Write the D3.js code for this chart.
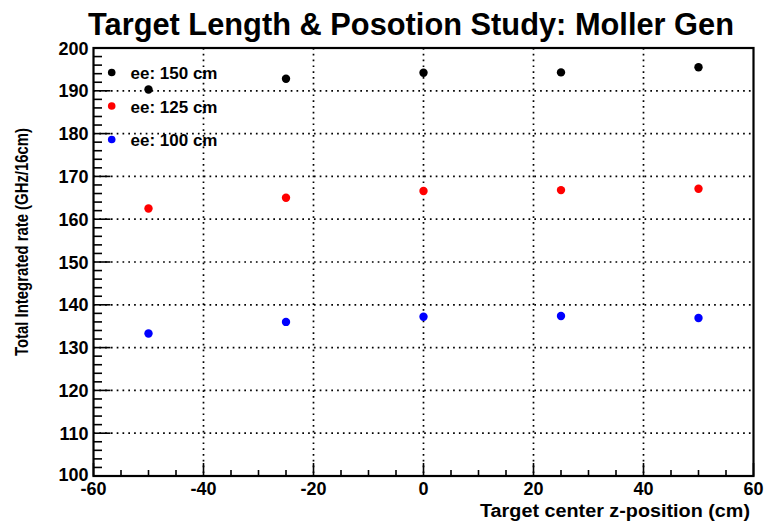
<!DOCTYPE html>
<html>
<head>
<meta charset="utf-8">
<script src="https://cdn.jsdelivr.net/npm/d3@7"></script>
<style>
  body { margin: 0; background: #fff; }
  svg { display: block; font-family: "Liberation Sans", Arial, sans-serif; }
</style>
</head>
<body>
<svg class="chart" width="769" height="522"></svg>
<script>
// data
const zPos = [-50, -25, 0, 25, 50];
const rate150 = [190.3, 192.8, 194.2, 194.3, 195.5];
const rate125 = [162.5, 165.0, 166.6, 166.8, 167.1];
const rate100 = [133.3, 136.0, 137.2, 137.4, 136.9];
const seriesNames = ["ee: 150 cm", "ee: 125 cm", "ee: 100 cm"];
const xTicks = [-60, -40, -20, 0, 20, 40, 60];
const yTicks = [100, 110, 120, 130, 140, 150, 160, 170, 180, 190, 200];

const margin = { top: 48, right: 15.5, bottom: 46, left: 93.5 };
const width = 769 - margin.left - margin.right;
const height = 522 - margin.top - margin.bottom;

const svg = d3.select(".chart");
const g = svg.append("g").attr("transform", `translate(${margin.left},${margin.top})`);

const x = d3.scaleLinear().domain([-60, 60]).range([0, width]);
const y = d3.scaleLinear().domain([100, 200]).range([height, 0]);

const dotted = (sel) =>
  sel.attr("stroke", "#000").attr("stroke-width", 1.7).attr("stroke-dasharray", "1.7,4.1");

// grid
g.append("g")
  .selectAll("line")
  .data(xTicks.slice(1, -1))
  .join("line")
  .attr("x1", (d) => x(d))
  .attr("x2", (d) => x(d))
  .attr("y1", 0)
  .attr("y2", height)
  .call(dotted);

g.append("g")
  .selectAll("line")
  .data(yTicks.slice(1, -1))
  .join("line")
  .attr("x1", 0)
  .attr("x2", width)
  .attr("y1", (d) => y(d))
  .attr("y2", (d) => y(d))
  .call(dotted);

// ticks, pointing inward (ROOT style)
const xMinor = x.ticks(24);
const yMinor = y.ticks(50);

g.append("g")
  .selectAll("line")
  .data(xMinor)
  .join("line")
  .attr("x1", (d) => x(d))
  .attr("x2", (d) => x(d))
  .attr("y1", height)
  .attr("y2", (d) => height - (xTicks.includes(d) ? 13 : 6))
  .attr("stroke", "#000")
  .attr("stroke-width", 1.6);

g.append("g")
  .selectAll("line")
  .data(yMinor)
  .join("line")
  .attr("y1", (d) => y(d))
  .attr("y2", (d) => y(d))
  .attr("x1", 0)
  .attr("x2", (d) => (yTicks.includes(d) ? 17 : 8.5))
  .attr("stroke", "#000")
  .attr("stroke-width", 1.6);

// tick labels
g.append("g")
  .selectAll("text")
  .data(xTicks)
  .join("text")
  .attr("x", (d) => x(d))
  .attr("y", height + 19)
  .attr("text-anchor", "middle")
  .attr("font-size", 18)
  .attr("font-weight", "bold")
  .text((d) => d);

g.append("g")
  .selectAll("text")
  .data(yTicks)
  .join("text")
  .attr("x", -5)
  .attr("y", (d) => y(d) + 6.5 - (d === 100 ? 2 : 0))
  .attr("text-anchor", "end")
  .attr("font-size", 18)
  .attr("font-weight", "bold")
  .text((d) => d);

// frame
g.append("rect")
  .attr("width", width)
  .attr("height", height)
  .attr("fill", "none")
  .attr("stroke", "#000")
  .attr("stroke-width", 2.2);

// points
const series = [
  { values: rate150, color: "#000000" },
  { values: rate125, color: "#ff0000" },
  { values: rate100, color: "#0000ff" },
];
series.forEach((s) => {
  g.append("g")
    .selectAll("circle")
    .data(zPos)
    .join("circle")
    .attr("cx", (d) => x(d))
    .attr("cy", (d, i) => y(s.values[i]))
    .attr("r", 4.2)
    .attr("fill", s.color);
});

// legend
const legend = svg.append("g");
series.forEach((s, i) => {
  const ly = 72.5 + i * 33.5;
  legend.append("circle").attr("cx", 111.7).attr("cy", ly).attr("r", 3.8).attr("fill", s.color);
  legend
    .append("text")
    .attr("x", 130.5)
    .attr("y", ly + 6.5)
    .attr("font-size", 17)
    .attr("font-weight", "bold")
    .text(seriesNames[i]);
});

// titles
svg.append("text")
  .attr("x", 88)
  .attr("y", 35)
  .attr("font-size", 32)
  .attr("font-weight", "bold")
  .attr("textLength", 646)
  .attr("lengthAdjust", "spacingAndGlyphs")
  .text("Target Length & Posotion Study: Moller Gen");

svg.append("text")
  .attr("x", 480)
  .attr("y", 517)
  .attr("font-size", 18)
  .attr("font-weight", "bold")
  .attr("textLength", 270)
  .attr("lengthAdjust", "spacingAndGlyphs")
  .text("Target center z-position (cm)");

svg.append("text")
  .attr("transform", "translate(28,356) rotate(-90)")
  .attr("font-size", 18)
  .attr("font-weight", "bold")
  .attr("textLength", 228)
  .attr("lengthAdjust", "spacingAndGlyphs")
  .text("Total Integrated rate (GHz/16cm)");
</script>
</body>
</html>
